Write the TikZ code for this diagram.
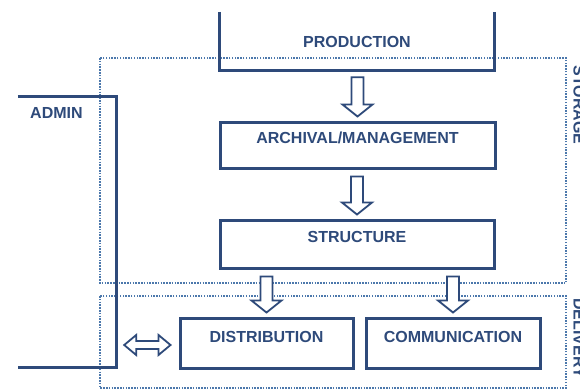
\documentclass[tikz,border=0pt]{standalone}
\usepackage{fontspec}
\setmainfont{Liberation Sans}
\usetikzlibrary{calc}
\definecolor{navy}{HTML}{2E4A7A}
\definecolor{dotblue}{HTML}{4C78AC}
\newcommand\hollowdown[2]{%
  \draw[hollow] let \p1=(#1), \p2=(#2) in
    ({\x2-6pt},{\y1-7pt}) -- ({\x2+6pt},{\y1-7pt}) -- ({\x2+6pt},{\y2+16pt})
    -- ({\x2+15pt},{\y2+16pt}) -- ({\x2},{\y2+4pt}) -- ({\x2-15pt},{\y2+16pt})
    -- ({\x2-6pt},{\y2+16pt}) -- cycle;}
\begin{document}
\begin{tikzpicture}[x=1pt,y=-1pt,
  box/.style={draw=navy,line width=3pt,inner sep=0pt},
  frame/.style={draw=navy,line width=3pt},
  lbl/.style={text=navy,font=\fontsize{16}{18}\selectfont\bfseries,inner sep=0pt},
  region/.style={draw=dotblue,line width=2.6pt,dash pattern=on 1.5pt off 1.3pt},
  hollow/.style={draw=navy,line width=1.8pt,fill=white,line join=miter}]
\useasboundingbox (0,0) rectangle (580,391);
\clip (0,0) rectangle (580,391);
\fill[white] (0,0) rectangle (580,391);
% dotted regions
\draw[region] (100,58) rectangle (566,283);
\draw[region] (100,296) rectangle (566,388);
% production (open top)
\node[minimum width=274pt,minimum height=58pt,inner sep=0pt] (prod) at (357,41) {};
\draw[frame] (prod.north west) -- (prod.south west) -- (prod.south east) -- (prod.north east);
\node[lbl] (prodt) at (357,42) {PRODUCTION};
% admin bracket
\node[minimum width=98pt,minimum height=270pt,inner sep=0pt] (admin) at (67,232) {};
\draw[frame] (admin.north west) -- (admin.north east) -- (admin.south east) -- (admin.south west);
\node[lbl,anchor=west] (admint) at (30,113) {ADMIN};
% boxes
\node[box,minimum width=275pt,minimum height=46pt] (arch) at (357.5,145) {};
\node[lbl] (archt) at (357.5,138) {ARCHIVAL/MANAGEMENT};
\node[box,minimum width=274pt,minimum height=48pt] (struct) at (357,244) {};
\node[lbl] (structt) at (357,237) {STRUCTURE};
\node[box,minimum width=173pt,minimum height=50pt] (dist) at (266.5,343) {};
\node[lbl] (distt) at (266.5,337) {DISTRIBUTION};
\node[box,minimum width=174pt,minimum height=50pt] (comm) at (453,343) {};
\node[lbl] (commt) at (453,337) {COMMUNICATION};
% hollow arrows
\hollowdown{prod.south}{arch.north}
\hollowdown{arch.south}{struct.north}
\hollowdown{struct.south}{dist.north}
\hollowdown{struct.south}{comm.north}
% double arrow
\draw[hollow] let \p1=(admin.east), \p2=(dist.west) in
  ({\x1+8pt},{\y2-2pt}) -- ({\x1+20pt},{\y2+8pt}) -- ({\x1+20pt},{\y2+2pt})
  -- ({\x2-20pt},{\y2+2pt}) -- ({\x2-20pt},{\y2+8pt}) -- ({\x2-8pt},{\y2-2pt})
  -- ({\x2-20pt},{\y2-12pt}) -- ({\x2-20pt},{\y2-6pt}) -- ({\x1+20pt},{\y2-6pt})
  -- ({\x1+20pt},{\y2-12pt}) -- cycle;
% right-edge labels (cut off at the edge, as in the reference)
\node[lbl,rotate=-90] (side1) at (579,105) {STORAGE};
\node[lbl,rotate=-90] (side2) at (579,338) {DELIVERY};
\end{tikzpicture}
\end{document}
